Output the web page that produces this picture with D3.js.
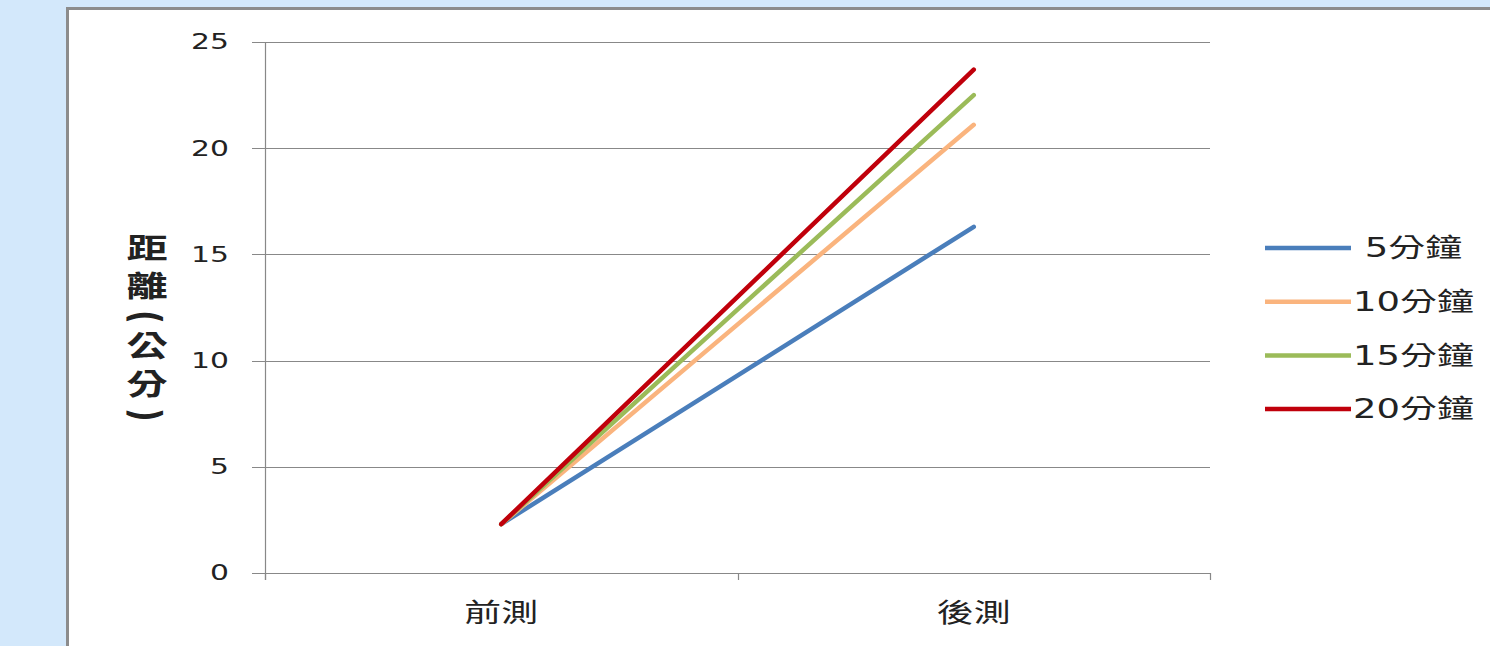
<!DOCTYPE html>
<html>
<head>
<meta charset="utf-8">
<script src="https://cdn.jsdelivr.net/npm/d3@7"></script>
<style>
    body { margin: 0; background: #d3e8fb; }
    svg { display: block; }
    text { font-family: "DejaVu Sans", "Noto Sans CJK TC", sans-serif; fill: #222; }
</style>
</head>
<body>
<svg id="chart" width="1490" height="646"></svg>
<script>
// data
const categories = ["前測", "後測"];
const seriesNames = [" 5分鐘", "10分鐘", "15分鐘", "20分鐘"];
const seriesValues = [
    [2.3, 16.3],
    [2.3, 21.1],
    [2.3, 22.5],
    [2.3, 23.7]
];
const seriesColors = ["#4a7ebb", "#fab47e", "#9bbb59", "#c0000b"];
const yTicks = [0, 5, 10, 15, 20, 25];
const yTitle = "距離(公分)";

// the source picture is stretched sideways, text too
const stretch = 1.42;

const svg = d3.select("#chart");

// white panel with grey frame on top and left
svg.append("rect")
    .attr("x", 67.5).attr("y", 8.5)
    .attr("width", 1440).attr("height", 660)
    .attr("fill", "#fff")
    .attr("stroke", "#8c8c8c")
    .attr("stroke-width", 3);

const plot = {left: 265, right: 1210, top: 42, bottom: 573};

const x = d3.scaleBand()
    .domain(categories)
    .range([plot.left, plot.right]);

const y = d3.scaleLinear()
    .domain([0, 25])
    .range([plot.bottom, plot.top]);

// gridlines
svg.append("g")
    .selectAll("line")
    .data(yTicks)
    .join("line")
    .attr("x1", plot.left - 13).attr("x2", plot.right)
    .attr("y1", d => Math.round(y(d)) + 0.5)
    .attr("y2", d => Math.round(y(d)) + 0.5)
    .attr("stroke", "#888")
    .attr("stroke-width", 1.2);

// y axis line
svg.append("line")
    .attr("x1", plot.left + 0.5).attr("x2", plot.left + 0.5)
    .attr("y1", plot.top).attr("y2", plot.bottom + 7)
    .attr("stroke", "#888")
    .attr("stroke-width", 1.2);

// category tick marks
const catEdges = [plot.left, x(categories[1]), plot.right];
svg.append("g")
    .selectAll("line")
    .data(catEdges)
    .join("line")
    .attr("x1", d => Math.round(d) + 0.5).attr("x2", d => Math.round(d) + 0.5)
    .attr("y1", plot.bottom).attr("y2", plot.bottom + 7)
    .attr("stroke", "#888")
    .attr("stroke-width", 1.2);

// y tick labels
svg.append("g")
    .selectAll("text")
    .data(yTicks)
    .join("text")
    .attr("transform", d => `translate(229, ${y(d)}) scale(${stretch}, 1)`)
    .attr("dy", "0.35em")
    .attr("text-anchor", "end")
    .attr("font-size", 21)
    .text(d => d);

// category labels
svg.append("g")
    .selectAll("text")
    .data(categories)
    .join("text")
    .attr("transform", d => `translate(${x(d) + x.bandwidth() / 2}, 622) scale(${stretch}, 1)`)
    .attr("text-anchor", "middle")
    .attr("font-size", 26)
    .text(d => d);

// y axis title, one character under the other, brackets turned
let ty = 230;
const titleChars = yTitle.split("").map(c => {
    const isBracket = c === "(" || c === ")";
    const h = isBracket ? 22 : 38;
    const item = {c: c, bracket: isBracket, cy: ty + h / 2};
    ty += h;
    return item;
});

svg.append("g")
    .selectAll("text")
    .data(titleChars)
    .join("text")
    .attr("transform", d => d.bracket
        ? `translate(147, ${d.cy}) rotate(90) scale(1, ${stretch})`
        : `translate(147, ${d.cy}) scale(${stretch}, 1)`)
    .attr("text-anchor", "middle")
    .attr("dy", "0.36em")
    .attr("font-size", 29)
    .attr("font-weight", "bold")
    .text(d => d.c);

// lines
const line = d3.line()
    .x((d, i) => x(categories[i]) + x.bandwidth() / 2)
    .y(d => y(d));

svg.append("g")
    .selectAll("path")
    .data(seriesValues)
    .join("path")
    .attr("d", line)
    .attr("fill", "none")
    .attr("stroke", (d, i) => seriesColors[i])
    .attr("stroke-width", 4.5)
    .attr("stroke-linecap", "round");

// legend
const legend = svg.append("g")
    .selectAll("g")
    .data(seriesNames)
    .join("g")
    .attr("transform", (d, i) => `translate(1265, ${248 + i * 53.7})`);

legend.append("line")
    .attr("x1", 0).attr("x2", 86)
    .attr("stroke", (d, i) => seriesColors[i])
    .attr("stroke-width", 4.5);

legend.append("text")
    .attr("transform", `translate(88, 0) scale(${stretch}, 1)`)
    .attr("dy", "0.35em")
    .attr("font-size", 26)
    .style("white-space", "pre")
    .text(d => d);
</script>
</body>
</html>
